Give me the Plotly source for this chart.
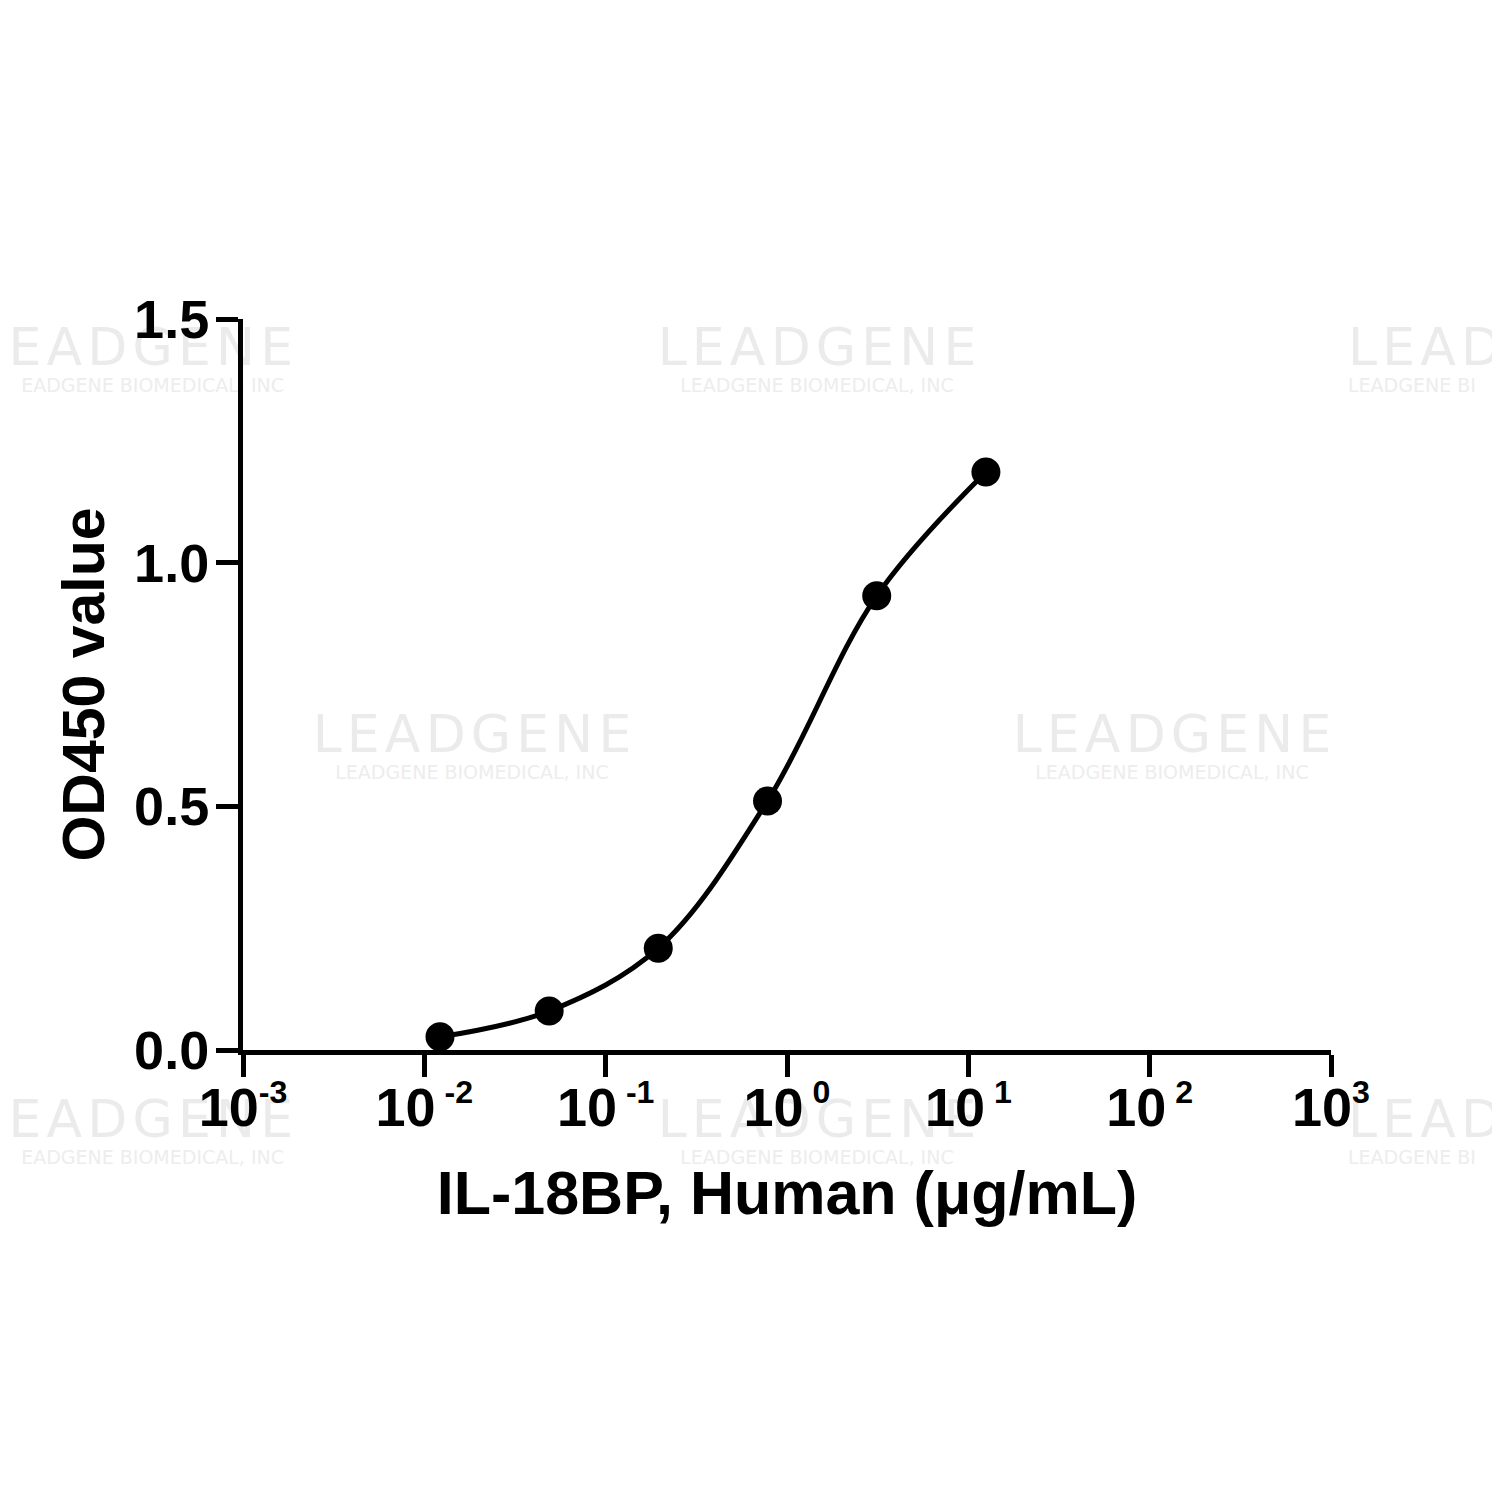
import plotly.graph_objects as go

# ---- data ----
conc_ug_ml = [0.0122, 0.0488, 0.195, 0.781, 3.125, 12.5]
od450 = [0.027, 0.080, 0.209, 0.511, 0.932, 1.186]

x_tick_vals = [1e-3, 1e-2, 1e-1, 1e0, 1e1, 1e2, 1e3]
x_tick_exp = ["-3", " -2", " -1", " 0", " 1", " 2", "3"]
y_tick_vals = [0, 0.5, 1.0, 1.5]
y_tick_text = ["0.0", "0.5", "1.0", "1.5"]

x_title = "IL-18BP, Human (μg/mL)"
y_title = "OD450 value"

FONT = "Liberation Sans, Arial, sans-serif"

x_tick_text = ["10<sup><span style='font-size:0.85em'>%s</span></sup>" % e for e in x_tick_exp]

fig = go.Figure()

# fitted curve (smooth line through the points)
fig.add_trace(go.Scatter(
    x=conc_ug_ml, y=od450, mode="lines",
    line=dict(color="black", width=5, shape="spline", smoothing=1.0),
    hoverinfo="skip", showlegend=False,
))
# data points
fig.add_trace(go.Scatter(
    x=conc_ug_ml, y=od450, mode="markers",
    marker=dict(color="black", size=29, line=dict(width=0)),
    showlegend=False,
))

# ---- watermark (decoration, placed below everything) ----
OFF = 8  # page body margin
L, R, T, B = 243, 1331, 319, 1050   # target pixel positions on the page
def px(xp):
    return (xp - L) / (R - L)
def py(yp):
    return (B - yp) / (B - T)

HS = "\u200a"
wm_main_full = HS.join("LEADGENE")
wm_sub_full = "LEADGENE BIOMEDICAL, INC"
# (centre x, centre y, main text, sub text, alignment)
wm_blocks = [
    (817, 343, wm_main_full, wm_sub_full, "center"),
    (472, 730, wm_main_full, wm_sub_full, "center"),
    (1172, 730, wm_main_full, wm_sub_full, "center"),
    (817, 1115, wm_main_full, wm_sub_full, "center"),
    (0, 343, HS.join("EADGENE"), "EADGENE BIOMEDICAL, INC", "left"),
    (0, 1115, HS.join("EADGENE"), "EADGENE BIOMEDICAL, INC", "left"),
    (1345, 343, HS.join("LEAD"), "LEADGENE BI", "right"),
    (1345, 1115, HS.join("LEAD"), "LEADGENE BI", "right"),
]
shapes = []
for cx, cy, tmain, tsub, al in wm_blocks:
    if al == "center":
        x0m, x1m, x0s, x1s, pos = cx - 170, cx + 170, cx - 170, cx + 170, "middle center"
    elif al == "left":
        x0m, x1m, x0s, x1s, pos = 14, 296, 14, 287, "middle right"
    else:
        x0m, x1m, x0s, x1s, pos = cx, 1495, cx, 1495, "middle left"
    shapes.append(dict(
        type="rect", xref="paper", yref="paper", layer="below",
        x0=px(x0m), x1=px(x1m), y0=py(cy + 25), y1=py(cy - 25),
        line=dict(width=0), fillcolor="rgba(0,0,0,0)",
        label=dict(text=tmain, textposition=pos, padding=0,
                   font=dict(family="DejaVu Sans", size=52, color="#ebebeb")),
    ))
    shapes.append(dict(
        type="rect", xref="paper", yref="paper", layer="below",
        x0=px(x0s), x1=px(x1s), y0=py(cy + 52), y1=py(cy + 30),
        line=dict(width=0), fillcolor="rgba(0,0,0,0)",
        label=dict(text=tsub, textposition=pos, padding=0,
                   font=dict(family="DejaVu Sans", size=19, color="#ededed")),
    ))

fig.update_layout(
    width=1500, height=1500,
    margin=dict(l=L - OFF, r=1500 - R + OFF, t=T - OFF, b=1500 - B + OFF),
    paper_bgcolor="white", plot_bgcolor="rgba(0,0,0,0)",
    font=dict(family=FONT, color="black"),
    shapes=shapes,
    showlegend=False,
)
fig.update_xaxes(
    type="log", range=[-3, 3],
    tickvals=x_tick_vals, ticktext=x_tick_text,
    ticks="outside", ticklen=22, tickwidth=5, tickcolor="black",
    showline=True, linewidth=5, linecolor="black",
    showgrid=False, zeroline=False,
    ticklabelstandoff=-16,
    tickfont=dict(family=FONT, size=54, weight="bold", color="black"),
    title=dict(text=x_title, standoff=37,
               font=dict(family=FONT, size=61, weight="bold", color="black")),
)
fig.update_yaxes(
    range=[0, 1.5],
    tickvals=y_tick_vals, ticktext=y_tick_text,
    ticks="outside", ticklen=22, tickwidth=5, tickcolor="black",
    showline=True, linewidth=5, linecolor="black",
    showgrid=False, zeroline=False,
    ticklabelstandoff=-4,
    tickfont=dict(family=FONT, size=54, weight="bold", color="black"),
    title=dict(text=y_title, standoff=12,
               font=dict(family=FONT, size=59, weight="bold", color="black")),
)

fig.write_html("out.html")
